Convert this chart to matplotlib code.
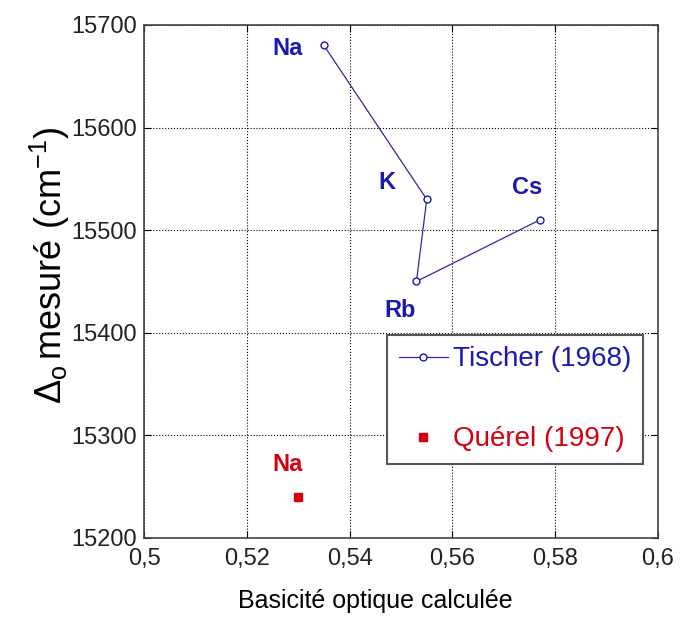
import matplotlib
matplotlib.use('Agg')
import matplotlib.pyplot as plt

plt.rcParams['font.family'] = ['Liberation Sans', 'DejaVu Sans']
plt.rcParams['mathtext.fontset'] = 'custom'
plt.rcParams['mathtext.rm'] = 'Liberation Sans'
plt.rcParams['mathtext.it'] = 'Liberation Sans'

# Tischer (1968)
tis_x = [0.535, 0.555, 0.553, 0.577]
tis_y = [15680, 15530, 15450, 15510]
tis_lab = ['Na', 'K', 'Rb', 'Cs']
# Querel (1997)
que_x = [0.530]
que_y = [15240]
que_lab = ['Na']

xticks = [0.5, 0.52, 0.54, 0.56, 0.58, 0.6]
xticklabels = ['0,5', '0,52', '0,54', '0,56', '0,58', '0,6']
yticks = [15200, 15300, 15400, 15500, 15600, 15700]

BLUE = '#1a1ab0'
RED = '#d40010'

fig = plt.figure(figsize=(6.81, 6.19), dpi=100)
ax = fig.add_axes([0.2115, 0.1309, 0.7548, 0.8288])

ax.plot(tis_x, tis_y, color='#2a2aa8', lw=0.9, marker='o', ms=5, mfc='white',
        mec=BLUE, mew=1.0, label='Tischer (1968)')
ax.plot(que_x, que_y, ls='none', marker='s', ms=6, color=RED, label='Quérel (1997)')

# labels next to points (offsets in points)
offs = {'Na': (-26, -2), 'K': (-29, 12), 'Rb': (-12, -21), 'Cs': (-9, 23)}
for x, y, s in zip(tis_x, tis_y, tis_lab):
    ax.annotate(s, (x, y), xytext=offs[s], textcoords='offset points',
                color=BLUE, fontsize=17, fontweight='bold', ha='center', va='center')
for x, y, s in zip(que_x, que_y, que_lab):
    ax.annotate(s, (x, y), xytext=(-8, 23), textcoords='offset points',
                color=RED, fontsize=17, fontweight='bold', ha='center', va='center')

ax.set_xlim(0.5, 0.6)
ax.set_ylim(15200, 15700)
ax.set_xticks(xticks)
ax.set_xticklabels(xticklabels)
ax.set_yticks(yticks)
ax.tick_params(direction='in', top=True, right=True, labelsize=17, length=5,
               width=0.8, labelcolor='#222222')
ax.tick_params(axis='x', pad=7)
ax.tick_params(axis='y', pad=5)
ax.grid(True, ls=':', color='black', lw=0.8)
for sp in ax.spines.values():
    sp.set_color('#444444')
    sp.set_linewidth(1.2)

ax.set_xlabel('Basicité optique calculée', fontsize=18)
ax.xaxis.set_label_coords(0.449, -0.1)
ax.set_ylabel(r'$\Delta_{\mathrm{o}}\,$mesuré (cm$^{-1}$)', fontsize=26)
ax.yaxis.set_label_coords(-0.14, 0.532)

leg = ax.legend(loc='lower right', bbox_to_anchor=(0.971, 0.144), fontsize=20,
                frameon=True, fancybox=False, edgecolor='#555555', framealpha=1,
                handlelength=1.75, handletextpad=0.2, labelspacing=1.95,
                borderpad=0.42, borderaxespad=0)
leg.get_frame().set_linewidth(1.5)
for t, c in zip(leg.get_texts(), [BLUE, RED]):
    t.set_color(c)

fig.savefig('out.png', dpi=100)
